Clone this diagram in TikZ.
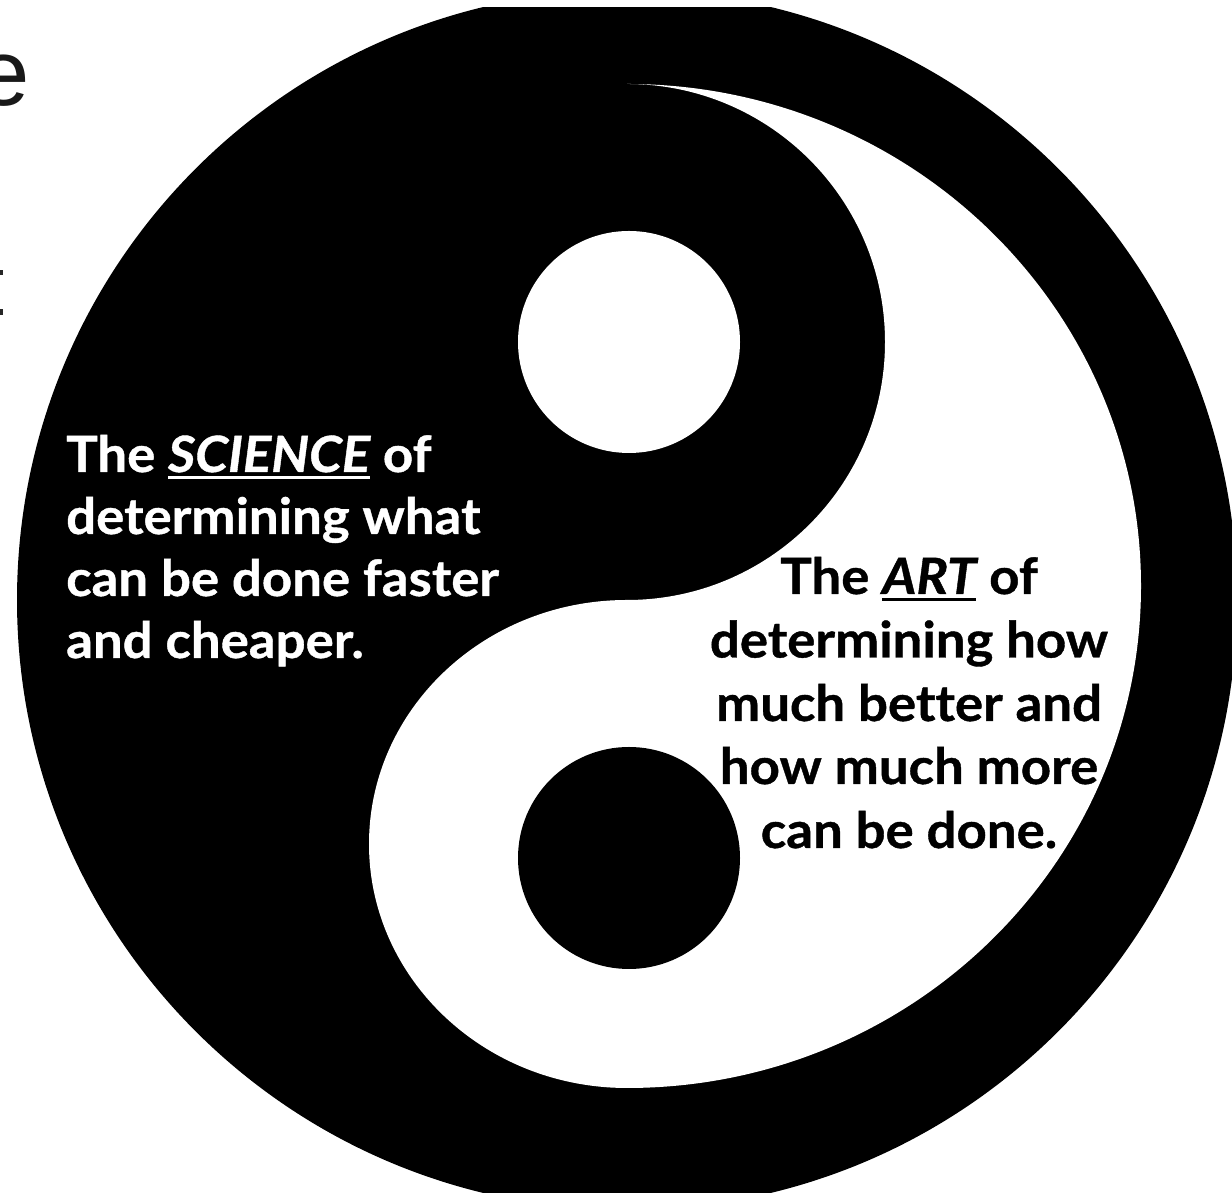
\documentclass[tikz,border=0pt]{standalone}
\usepackage{fontspec}
\newfontfamily\labfont{Lato}[FakeStretch=1.055, FakeBold=0.8, Ligatures=NoCommon]
\newfontfamily\efont{Liberation Sans}
\newcommand\ulbox[1]{\setbox0=\hbox{#1}\rlap{\rule[-7pt]{\wd0}{2.6pt}}\box0\relax}
\tikzset{
  scitext/.style={anchor=base west, inner sep=0pt, text=white,
    font=\labfont\bfseries\fontsize{50}{60}\selectfont},
  arttext/.style={anchor=base, inner sep=0pt, text=black,
    font=\labfont\bfseries\fontsize{50}{60}\selectfont},
}
\begin{document}
\begin{tikzpicture}[x=1pt,y=1pt]
\path[use as bounding box] (0,0) rectangle (1232,1193);
\fill[white] (0,0) rectangle (1232,1193);
\begin{scope}
  \clip (0,0) rectangle (1232,1193);
  % cropped slide text at the left edge
  \node[anchor=base west, inner sep=0pt, text=black!90, font=\efont\fontsize{94}{100}\selectfont] (e) at (-23,1087) {e};
  \fill[black!85] (0,918) rectangle (2.5,923);
  \fill[black!85] (0,878) rectangle (2.5,884);
  % yin-yang, cut at the top
  \begin{scope}
    \clip (0,0) rectangle (1232,1185.5);
    \fill[black] (627,593) circle[radius=610];
    \fill[white] (627,1109) arc[start angle=90,end angle=-90,x radius=514,y radius=502]
                 arc[start angle=270,end angle=90,x radius=258,y radius=244]
                 arc[start angle=-90,end angle=90,radius=258] -- cycle;
    \fill[white] (629,851) circle[radius=111];
    \fill[black] (629,335) circle[radius=111];
  \end{scope}
\end{scope}
% texts
\node[scitext] (s1) at (66,721) {The \ulbox{\itshape SCIENCE} of};
\node[scitext] (s2) at (66,659) {determining what};
\node[scitext] (s3) at (66,597) {can be done faster};
\node[scitext] (s4) at (66,535) {and cheaper.};
\node[arttext] (a1) at (909,599) {The \ulbox{\itshape ART} of};
\node[arttext] (a2) at (909,535.5) {determining how};
\node[arttext] (a3) at (909,472) {much better and};
\node[arttext] (a4) at (909,409) {how much more};
\node[arttext] (a5) at (909,345) {can be done.};
\end{tikzpicture}
\end{document}
